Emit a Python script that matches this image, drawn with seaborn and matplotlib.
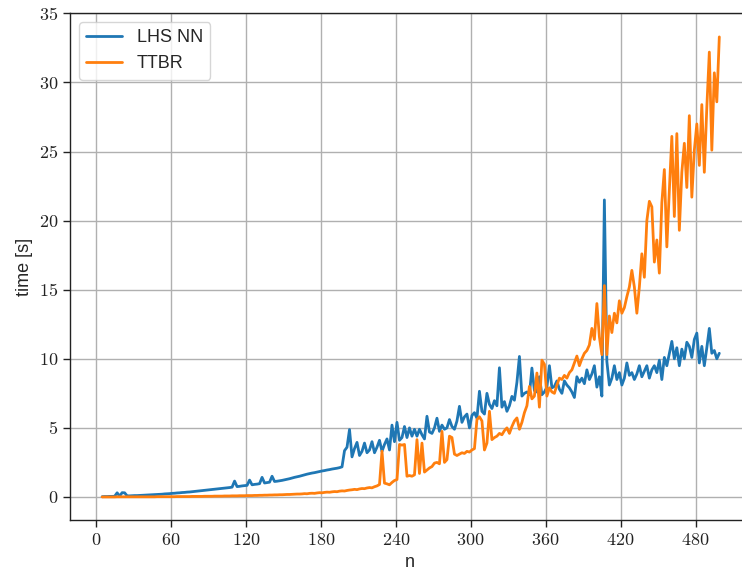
import numpy as np
import pandas as pd
import matplotlib
matplotlib.use("Agg")
import matplotlib.pyplot as plt
from matplotlib.ticker import FuncFormatter, MultipleLocator
import seaborn as sns

# problem size n (odd sizes from 5 to 499)
n_values = list(range(5, 500, 2))

# runtime of the LHS nearest-neighbour method [s]
lhs_nn = [
    0.02, 0.03, 0.03, 0.04, 0.04, 0.05, 0.30, 0.06, 0.31, 0.30,
    0.08, 0.08, 0.09, 0.10, 0.10, 0.11, 0.12, 0.13, 0.14, 0.15,
    0.16, 0.17, 0.18, 0.19, 0.20, 0.22, 0.23, 0.24, 0.26, 0.27,
    0.29, 0.30, 0.32, 0.33, 0.35, 0.36, 0.38, 0.40, 0.42, 0.44,
    0.46, 0.48, 0.50, 0.52, 0.54, 0.56, 0.58, 0.60, 0.62, 0.64,
    0.66, 0.68, 0.71, 1.15, 0.75, 0.77, 0.80, 0.82, 0.84, 1.22,
    0.88, 0.91, 0.93, 0.96, 1.42, 1.01, 1.04, 1.07, 1.50, 1.12,
    1.14, 1.17, 1.20, 1.24, 1.28, 1.32, 1.37, 1.42, 1.46, 1.50,
    1.55, 1.60, 1.65, 1.69, 1.73, 1.76, 1.80, 1.84, 1.88, 1.91,
    1.95, 1.98, 2.02, 2.05, 2.08, 2.12, 2.18, 3.35, 3.60, 4.88,
    2.90, 3.50, 3.95, 3.00, 3.30, 3.90, 3.20, 3.40, 4.00, 3.20,
    3.60, 4.10, 3.30, 3.80, 4.20, 3.40, 5.20, 4.00, 5.40, 4.10,
    4.30, 5.10, 4.30, 5.00, 4.40, 4.90, 4.40, 4.90, 4.50, 4.20,
    5.84, 4.70, 4.60, 5.00, 5.70, 4.75, 5.20, 4.90, 5.00, 5.60,
    5.10, 4.90, 5.50, 6.56, 5.40, 5.80, 6.00, 5.00, 5.90, 6.10,
    5.70, 7.65, 6.20, 6.00, 7.50, 6.70, 6.40, 6.97, 6.60, 9.35,
    6.50, 6.90, 6.20, 6.60, 7.28, 7.00, 8.30, 10.17, 7.30, 7.50,
    7.60, 7.40, 9.33, 7.70, 7.60, 8.70, 7.40, 7.60, 7.95, 9.50,
    7.90, 8.00, 8.40, 7.80, 7.50, 8.40, 8.10, 7.90, 7.60, 7.20,
    8.70, 8.30, 8.60, 8.20, 9.20, 8.50, 8.90, 9.50, 7.95, 8.70,
    7.30, 21.50, 9.80, 8.10, 8.60, 9.50, 8.50, 9.00, 8.10, 8.60,
    9.70, 8.80, 9.00, 8.50, 8.90, 9.50, 8.70, 9.10, 9.50, 8.60,
    9.20, 9.50, 9.00, 9.90, 8.50, 10.10, 9.50, 10.40, 11.26, 10.00,
    10.80, 9.50, 10.70, 10.00, 11.20, 10.90, 10.10, 11.40, 11.86, 9.70,
    10.90, 9.50, 10.80, 12.20, 10.40, 10.60, 10.00, 10.40,
]

# runtime of TTBR [s]
ttbr = [
    0.00, 0.00, 0.00, 0.00, 0.00, 0.00, 0.01, 0.01, 0.01, 0.01,
    0.01, 0.01, 0.01, 0.01, 0.01, 0.01, 0.01, 0.01, 0.01, 0.01,
    0.01, 0.01, 0.02, 0.02, 0.02, 0.02, 0.02, 0.02, 0.02, 0.02,
    0.03, 0.03, 0.03, 0.03, 0.03, 0.03, 0.04, 0.04, 0.04, 0.04,
    0.04, 0.05, 0.05, 0.05, 0.05, 0.06, 0.06, 0.06, 0.06, 0.07,
    0.07, 0.07, 0.08, 0.08, 0.08, 0.09, 0.09, 0.09, 0.10, 0.10,
    0.10, 0.11, 0.11, 0.12, 0.12, 0.13, 0.13, 0.14, 0.14, 0.15,
    0.15, 0.16, 0.16, 0.17, 0.18, 0.18, 0.19, 0.20, 0.21, 0.21,
    0.22, 0.24, 0.23, 0.26, 0.27, 0.26, 0.29, 0.31, 0.30, 0.33,
    0.35, 0.34, 0.37, 0.39, 0.38, 0.42, 0.44, 0.43, 0.47, 0.50,
    0.52, 0.55, 0.53, 0.58, 0.61, 0.60, 0.65, 0.68, 0.66, 0.74,
    0.80, 0.90, 3.31, 1.00, 0.95, 0.88, 1.05, 1.19, 1.26, 3.80,
    3.75, 3.80, 1.50, 1.55, 1.50, 1.60, 4.15, 1.70, 3.90, 1.80,
    1.95, 2.10, 2.20, 2.45, 2.50, 2.40, 4.75, 2.50, 2.70, 4.40,
    4.30, 3.10, 3.00, 3.10, 3.20, 3.15, 3.30, 3.25, 3.40, 3.50,
    5.60, 5.80, 5.50, 3.40, 3.90, 6.20, 4.15, 4.30, 4.40, 4.60,
    4.50, 4.80, 5.00, 4.60, 5.10, 5.50, 5.72, 4.90, 5.40, 6.10,
    6.60, 8.00, 7.10, 7.30, 8.97, 6.50, 9.90, 9.60, 7.30, 7.90,
    7.60, 7.50, 8.10, 8.60, 8.50, 8.80, 8.60, 9.00, 9.20, 9.70,
    10.20, 9.50, 10.00, 10.40, 10.60, 11.00, 12.20, 11.40, 14.00, 11.60,
    10.30, 15.30, 10.30, 13.10, 11.90, 13.30, 12.60, 14.20, 13.30, 13.70,
    14.50, 15.20, 16.40, 15.20, 13.30, 15.20, 17.60, 15.90, 20.00, 21.40,
    21.00, 17.00, 18.60, 16.20, 21.30, 23.70, 18.10, 22.20, 26.10, 20.30,
    26.30, 19.30, 23.50, 25.60, 22.40, 27.60, 21.70, 25.10, 27.00, 24.00,
    28.40, 23.50, 28.20, 32.20, 25.10, 30.70, 28.60, 33.30,
]

series_names = ["LHS NN", "TTBR"]
x_ticks = [0, 60, 120, 180, 240, 300, 360, 420, 480]
y_ticks = [0, 5, 10, 15, 20, 25, 30, 35]

df = pd.DataFrame({
    "n": n_values * 2,
    "time [s]": lhs_nn + ttbr,
    "method": [series_names[0]] * len(n_values) + [series_names[1]] * len(n_values),
})

sns.set_style("ticks")
plt.rcParams["font.family"] = ["Liberation Sans", "DejaVu Sans"]
plt.rcParams["mathtext.fontset"] = "cm"

fig = plt.figure(figsize=(7.42, 5.78), dpi=100)
ax = fig.add_axes([0.0943, 0.1003, 0.9168, 0.8772])

sns.lineplot(
    data=df, x="n", y="time [s]", hue="method", hue_order=series_names,
    palette=["#1f77b4", "#ff7f0e"], linewidth=2.0, ax=ax,
)

ax.set_xlim(-20.75, 523.75)
ax.set_ylim(-1.67, 35.03)
ax.set_xticks(x_ticks)
ax.set_yticks(y_ticks)
math_fmt = FuncFormatter(lambda v, pos: r"$%d$" % int(round(v)))
ax.xaxis.set_major_formatter(math_fmt)
ax.yaxis.set_major_formatter(math_fmt)
ax.tick_params(axis="both", direction="out", length=5, width=1.0,
               labelsize=13, colors="#222222")

ax.grid(True, color="#b0b0b0", linewidth=1.0)
ax.set_axisbelow(True)
for side in ["left", "bottom", "top", "right"]:
    ax.spines[side].set_visible(True)
    ax.spines[side].set_color("#222222")
    ax.spines[side].set_linewidth(1.0)

ax.set_xlabel("n", fontsize=13)
ax.set_ylabel("time [s]", fontsize=13)

leg = ax.legend(loc="upper left", fontsize=13, title=None, frameon=True,
                fancybox=True, framealpha=0.8, edgecolor="#cccccc")
for line in leg.get_lines():
    line.set_linewidth(2.0)

fig.savefig("out.png", dpi=100)
